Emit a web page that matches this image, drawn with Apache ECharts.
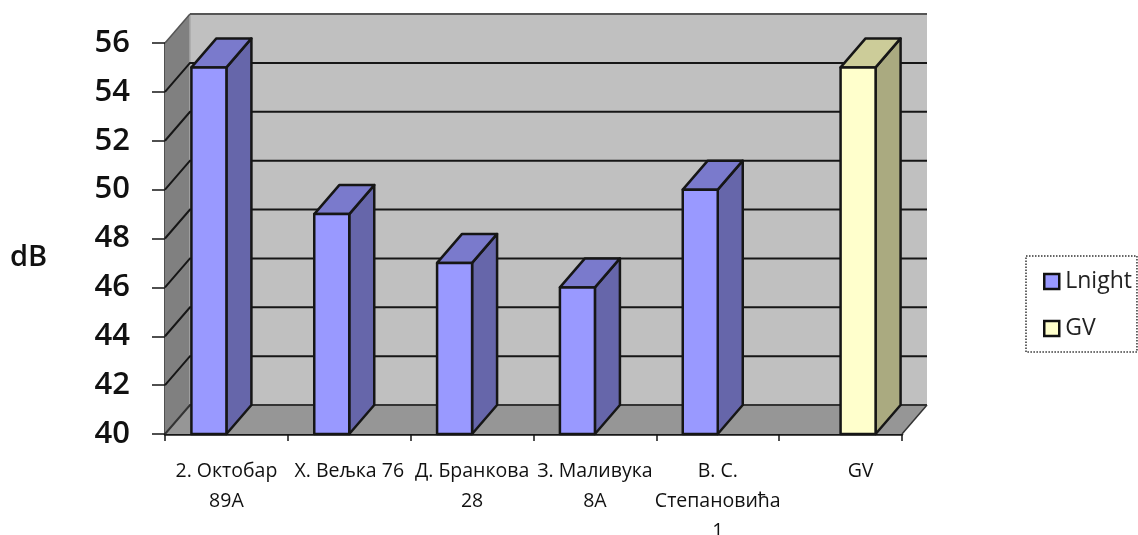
<!DOCTYPE html>
<html><head><meta charset="utf-8">
<style>html,body{margin:0;padding:0;background:#fff}#c{width:1138px;height:535px}</style>
<script src="https://cdn.jsdelivr.net/npm/echarts@6/dist/echarts.min.js"></script>
</head><body><div id="c"></div>
<script>
const categories = ['2. Октобар\n89А','Х. Вељка 76','Д. Бранкова\n28','З. Маливука\n8А','В. С.\nСтепановића\n1','GV'];
const lnight = [55,49,47,46,50,null];
const gv = [null,null,null,null,null,55];
const yTicks = [42,44,46,48,50,52,54,56];
const DX = 25, DY = -29, BW = 35, INK = '#161616';

const chart = echarts.init(document.getElementById('c'), null, {renderer:'canvas'});

function poly(points, fill, z2, lw){
  return {type:'polygon', z2:z2||0, shape:{points}, style:{fill, stroke:INK, lineWidth:lw===undefined?2.5:lw, lineJoin:'round'}};
}
function wallsItem(params, api){
  const cs = params.coordSys, l = cs.x, r = cs.x+cs.width, b = cs.y+cs.height, t = cs.y;
  const kids = [];
  kids.push({type:'polygon',shape:{points:[[l+DX,t+DY],[r+DX,t+DY],[r+DX,b+DY],[l+DX,b+DY]]},style:{fill:'#c0c0c0'}});
  kids.push({type:'polygon',shape:{points:[[l,b],[l+DX,b+DY],[l+DX,t+DY],[l,t]]},style:{fill:'#808080'}});
  kids.push({type:'polygon',shape:{points:[[l,b],[r,b],[r+DX,b+DY],[l+DX,b+DY]]},style:{fill:'#969696'}});
  kids.push({type:'line',shape:{x1:l+DX,y1:t+DY,x2:l+DX,y2:b+DY},style:{stroke:'#a8a8a8',lineWidth:1.5}});
  kids.push({type:'line',shape:{x1:l+DX,y1:t+DY,x2:r+DX,y2:t+DY},style:{stroke:'#555',lineWidth:2}});
  kids.push({type:'line',shape:{x1:l,y1:t,x2:l+DX,y2:t+DY},style:{stroke:'#555',lineWidth:1.5}});
  yTicks.slice(0,-1).forEach(v=>{
    const y = api.coord([0,v])[1];
    kids.push({type:'polyline',shape:{points:[[l,y],[l+DX,y+DY],[r+DX,y+DY]]},style:{fill:'none',stroke:INK,lineWidth:2}});
  });
  kids.push({type:'polyline',shape:{points:[[l,b],[l+DX,b+DY],[r+DX,b+DY]]},style:{fill:'none',stroke:'#333',lineWidth:2}});
  kids.push({type:'line',shape:{x1:r,y1:b,x2:r+DX,y2:b+DY},style:{stroke:'#333',lineWidth:1.5}});
  return {type:'group',children:kids};
}
function barRenderer(slot, front, top, side){
  return function(params, api){
    const v = api.value(1);
    if (isNaN(v)) return null;
    const c = api.coord([api.value(0), v]);
    const base = api.coord([api.value(0), 40]);
    const x0 = c[0] + slot*BW, x1 = x0+BW, y = c[1], b = base[1];
    return {type:'group',children:[
      poly([[x1,b],[x1+DX,b+DY],[x1+DX,y+DY],[x1,y]],side),
      poly([[x0,y],[x1,y],[x1+DX,y+DY],[x0+DX,y+DY]],top),
      poly([[x0,y],[x1,y],[x1,b],[x0,b]],front)
    ]};
  };
}
const toData = a => a.map((v,i)=> v===null ? [i,'-'] : [i,v]);

chart.setOption({
  animation:false,
  backgroundColor:'#fff',
  title:{text:'dB',left:10,top:243,padding:0,textStyle:{fontFamily:'Open Sans',fontSize:29,fontWeight:600,color:'#111'}},
  legend:{
    data:[{name:'Lnight'},{name:'GV'}],
    orient:'vertical',left:1026,top:256,
    padding:[14,5,12,17],itemGap:24,itemWidth:15,itemHeight:15,
    icon:'rect',
    borderColor:'#333',borderWidth:1.5,borderType:'dotted',
    itemStyle:{borderColor:'#111',borderWidth:2.5},
    textStyle:{fontFamily:'Open Sans',fontSize:23,color:'#222',padding:[0,0,0,1]}
  },
  grid:{left:165,top:43,width:737,height:391,containLabel:false,outerBoundsMode:'none'},
  xAxis:{
    type:'category',data:categories,boundaryGap:true,
    axisLine:{show:true,lineStyle:{color:INK,width:2.5}},
    axisTick:{show:true,length:7,inside:false,lineStyle:{color:INK,width:1.5}},
    axisLabel:{
      interval:0,margin:22,hideOverlap:false,
      fontFamily:'Open Sans',fontSize:19.5,lineHeight:30,color:'#111',
      formatter:(v)=> v==='GV' ? '{gv|GV}' : v,
      rich:{gv:{padding:[0,0,0,40],fontFamily:'Open Sans',fontSize:19.5,lineHeight:30,color:'#111'}}
    },
    splitLine:{show:false}
  },
  yAxis:{
    type:'value',min:40,max:56,interval:2,
    axisLine:{show:true,lineStyle:{color:INK,width:2.5}},
    axisTick:{show:true,length:13,lineStyle:{color:INK,width:1.5}},
    axisLabel:{margin:35,fontFamily:'Open Sans',fontSize:31,fontWeight:600,color:'#111'},
    splitLine:{show:false}
  },
  series:[
    {type:'custom',name:'walls',silent:true,z:1,clip:false,data:[[0,40]],encode:{x:0,y:1},renderItem:wallsItem},
    {type:'custom',name:'Lnight',z:2,clip:false,data:toData(lnight),encode:{x:0,y:1},
      itemStyle:{color:'#9999ff'},renderItem:barRenderer(-1,'#9999ff','#7a7acc','#6666aa')},
    {type:'custom',name:'GV',z:3,clip:false,data:toData(gv),encode:{x:0,y:1},
      itemStyle:{color:'#ffffcc'},renderItem:barRenderer(0,'#ffffcc','#cccc99','#aaaa80')}
  ]
});
</script>
</body></html>
